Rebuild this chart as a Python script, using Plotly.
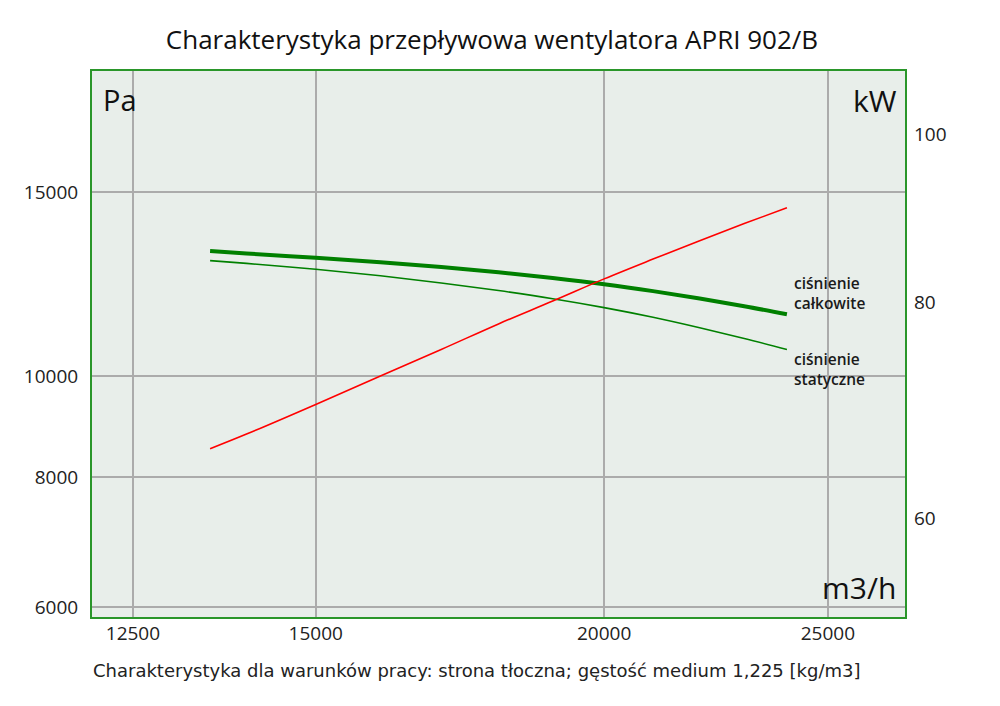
import plotly.graph_objects as go
import math

flow = [13500, 14000, 15000, 16000, 17000, 18000, 19000, 20000, 21000, 22000, 23000, 24000]
p_total = [13170, 13100, 12975, 12850, 12715, 12570, 12410, 12240, 12055, 11860, 11660, 11455]
p_static = [12895, 12815, 12650, 12470, 12275, 12070, 11855, 11625, 11380, 11120, 10860, 10600]
power_kw = [65.8, 67.1, 69.8, 72.5, 75.1, 77.7, 80.1, 82.5, 84.7, 86.8, 88.8, 90.7]

x_ticks = [12500, 15000, 20000, 25000]
y_ticks = [6000, 8000, 10000, 15000]
y2_ticks = [60, 80, 100]

title = "Charakterystyka przepływowa wentylatora APRI 902/B"
footer = "Charakterystyka dla warunków pracy: strona tłoczna; gęstość medium 1,225 [kg/m3]"

GREEN = "#008000"
FONT = "Open Sans"

fig = go.Figure()
fig.add_trace(go.Scatter(x=flow, y=p_total, mode="lines", line=dict(color=GREEN, width=4, shape="spline"),
                         showlegend=False, hoverinfo="skip"))
fig.add_trace(go.Scatter(x=flow, y=p_static, mode="lines", line=dict(color=GREEN, width=1.6, shape="spline"),
                         showlegend=False, hoverinfo="skip"))
fig.add_trace(go.Scatter(x=flow, y=power_kw, mode="lines", line=dict(color="#ff0000", width=1.6, shape="spline"),
                         yaxis="y2", showlegend=False, hoverinfo="skip"))

grid = "#ababab"
fig.update_layout(
    width=1000, height=706,
    margin=dict(l=84, r=103, t=63, b=97),
    paper_bgcolor="white",
    plot_bgcolor="#e8eeea",
    font=dict(family=FONT, color="#222222", size=19),
    title=dict(text=title, x=0.484, xanchor="center", y=0.955, yanchor="middle",
               font=dict(family=FONT, size=26, color="#111111")),
    xaxis=dict(type="log", range=[math.log10(12000), math.log10(27000)],
               tickvals=x_ticks, ticktext=[str(v) for v in x_ticks],
               showgrid=True, gridcolor=grid, gridwidth=1.5,
               showline=True, linecolor="#2a962a", linewidth=2, mirror=True,
               zeroline=False, ticks="", ticklabelstandoff=-2,
               tickfont=dict(size=19, color="#222222")),
    yaxis=dict(type="log", range=[math.log10(5875), math.log10(19590)],
               tickvals=y_ticks, ticktext=[str(v) for v in y_ticks],
               showgrid=True, gridcolor=grid, gridwidth=1.5,
               showline=True, linecolor="#2a962a", linewidth=2, mirror=True,
               zeroline=False, ticks="", ticklabelstandoff=8,
               tickfont=dict(size=19, color="#222222")),
    yaxis2=dict(type="log", range=[math.log10(52.6), math.log10(108.8)],
                overlaying="y", side="right",
                tickvals=y2_ticks, ticktext=[str(v) for v in y2_ticks],
                showgrid=False, zeroline=False, ticks="", ticklabelstandoff=8,
                tickfont=dict(size=19, color="#222222")),
    annotations=[
        dict(text="Pa", xref="paper", yref="paper", x=0.011, y=0.988, xanchor="left", yanchor="top",
             showarrow=False, font=dict(family=FONT, size=29, color="#111111")),
        dict(text="kW", xref="paper", yref="paper", x=0.993, y=0.988, xanchor="right", yanchor="top",
             showarrow=False, font=dict(family=FONT, size=30, color="#111111")),
        dict(text="m3/h", xref="paper", yref="paper", x=0.992, y=0.012, xanchor="right", yanchor="bottom",
             showarrow=False, font=dict(family=FONT, size=30, color="#111111")),
        dict(text="ciśnienie<br>całkowite", xref="paper", yref="paper", x=0.861, y=0.594,
             xanchor="left", yanchor="middle", align="left", showarrow=False,
             font=dict(family=FONT, size=15.5, color="#1a1a1a", weight=600)),
        dict(text="ciśnienie<br>statyczne", xref="paper", yref="paper", x=0.861, y=0.454,
             xanchor="left", yanchor="middle", align="left", showarrow=False,
             font=dict(family=FONT, size=15.5, color="#1a1a1a", weight=600)),
        dict(text=footer, xref="paper", yref="paper", x=-0.001, y=-0.098, xanchor="left", yanchor="middle",
             showarrow=False, font=dict(family="DejaVu Sans", size=18, color="#222222")),
    ],
)

fig.write_html("out.html")
